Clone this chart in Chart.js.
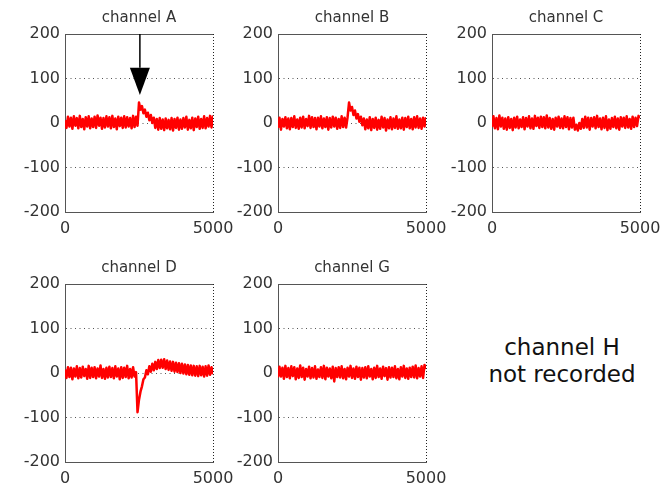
<!DOCTYPE html>
<html lang="en">
<head>
    <meta charset="UTF-8">
    <title>Channel recordings</title>
    <script src="https://cdn.jsdelivr.net/npm/chart.js"></script>
    <style>
        body { margin: 0; background: #fff; width: 666px; height: 486px; overflow: hidden; position: relative; font-family: "DejaVu Sans", sans-serif; }
        .panel { position: absolute; }
        #note { position: absolute; left: 462px; top: 334px; width: 200px; text-align: center; font-size: 23px; line-height: 27px; color: #111; }
    </style>
</head>
<body>
    <canvas id="chA" class="panel" width="240" height="250" style="left:0px;top:0px"></canvas>
    <canvas id="chB" class="panel" width="240" height="250" style="left:213px;top:0px"></canvas>
    <canvas id="chC" class="panel" width="240" height="250" style="left:427px;top:0px"></canvas>
    <canvas id="chD" class="panel" width="240" height="250" style="left:0px;top:250px"></canvas>
    <canvas id="chG" class="panel" width="240" height="250" style="left:213px;top:250px"></canvas>
    <div id="note">channel H<br>not recorded</div>

    <script>
        // sample positions (x) shared by every channel
        const sampleIdx = [0,50,100,150,200,250,300,350,400,450,500,550,600,650,700,750,800,850,900,950,
            1000,1050,1100,1150,1200,1250,1300,1350,1400,1450,1500,1550,1600,1650,1700,1750,1800,1850,1900,1950,
            2000,2050,2100,2150,2200,2250,2300,2350,2400,2450,2500,2550,2600,2650,2700,2750,2800,2850,2900,2950,
            3000,3050,3100,3150,3200,3250,3300,3350,3400,3450,3500,3550,3600,3650,3700,3750,3800,3850,3900,3950,
            4000,4050,4100,4150,4200,4250,4300,4350,4400,4450,4500,4550,4600,4650,4700,4750,4800,4850,4900,4950,5000];

        const chanA = [6,-11,14,-8,12,-13,15,-6,11,-12, 16,-9,9,-14,13,-8,15,-12,10,-9,
            14,-11,17,-6,12,-13,11,-10,15,-8, 13,-12,16,-9,10,-14,14,-7,12,-11,
            15,-10,13,-8,11,-12,16,-9,14,-6, 46,30,38,22,30,14,23,6,18,0,
            12,-11,9,-15,11,-13,8,-16,10,-12, 7,-14,11,-17,9,-11,12,-15,8,-13,
            11,-10,14,-15,7,-12,12,-16,10,-9, 14,-13,9,-11,15,-12,11,-8,16,-10,17];

        const chanB = [-11,12,-15,9,-8,13,-12,10,-14,11, -9,15,-11,8,-13,12,-10,14,-12,9,
            -7,16,-11,13,-9,11,-14,12,-8,15, -12,10,-9,13,-15,11,-10,14,-8,12,
            -13,9,-11,15,-9,12,-10,13, 46,28,36,18,28,10,20,3,14,-5,
            10,-14,8,-12,13,-16,9,-11,12,-15, 7,-13,14,-10,11,-17,8,-12,13,-14,
            10,-11,15,-13,8,-12,12,-15,11,-9, 14,-12,9,-14,13,-10,15,-11,10,-13,12,-8,13];

        const chanC = [-9,15,-12,11,-14,17,-8,12,-13,10, -15,13,-11,9,-16,12,-10,14,-12,8,
            -9,13,-14,11,-8,15,-12,10,-13,16, -7,12,-11,14,-9,13,-12,17,-10,11,
            -13,9,-15,12,-8,14,-11,10,-12,15, -9,13,-14,11,-10,12,-15,-4,-17,0,
            -13,9,-11,14,-10,12,-15,11,-8,13, -12,16,-9,10,-14,12,-11,15,-16,8,
            -13,11,-9,14,-12,10,-15,13,-8,12, -11,15,-10,9,-13,14,-9,12,-7,16,11];

        const chanD = [8,-11,13,-9,12,-14,10,-8,15,-12, 11,-10,14,-7,9,-13,16,-11,12,-9,
            13,-12,10,-8,17,-11,9,-13,12,-10, 14,-9,11,-12,15,-8,10,-14,13,-11,
            12,-9,16,-12,9,-10,13,-8,2, -88,-60,-42,-30,-14,-10,6,-3,15,3,
            21,6,25,9,29,11,30,12,31,9, 28,7,26,5,25,3,23,2,22,0,
            21,-1,19,-3,18,-4,17,-5,16,-6, 15,-7,16,-5,14,-8,15,-6,17,-4,13,-3];

        const chanG = [-10,14,-8,12,-13,16,-9,11,-12,15, -7,13,-14,10,-11,17,-9,12,-15,9,
            -8,14,-12,11,-10,15,-13,8,-9,13, -11,16,-14,12,-8,10,-12,14,-19,11,
            -9,13,-10,15,-12,9,-14,12,-8,16, -11,10,-13,14,-9,12,-15,11,-10,13,
            -12,15,-8,9,-14,12,-11,16,-9,10, -13,14,-7,11,-15,13,-10,12,-9,15,
            -12,9,-14,13,-8,16,-11,10,-13,12, -9,14,-10,17,-12,11,-8,15,-11,18,9];

        const xTickValues = [0, 5000];
        const yTickValues = [-200, -100, 0, 100, 200];

        // arrow marking the event on channel A
        const arrowAt = 2530;
        const arrowFrom = 200;
        const arrowHeadBase = 124;
        const arrowTip = 63;
        const arrowHalfWidth = 338;

        Chart.defaults.font.family = '"DejaVu Sans", sans-serif';

        const arrowPlugin = {
            id: 'arrow',
            afterDatasetsDraw(chart) {
                const { ctx, scales: { x, y } } = chart;
                const px = x.getPixelForValue(arrowAt);
                ctx.save();
                ctx.strokeStyle = '#000';
                ctx.fillStyle = '#000';
                ctx.lineWidth = 1.5;
                ctx.beginPath();
                ctx.moveTo(px, y.getPixelForValue(arrowFrom));
                ctx.lineTo(px, y.getPixelForValue(arrowHeadBase));
                ctx.stroke();
                ctx.beginPath();
                ctx.moveTo(x.getPixelForValue(arrowAt - arrowHalfWidth), y.getPixelForValue(arrowHeadBase));
                ctx.lineTo(x.getPixelForValue(arrowAt + arrowHalfWidth), y.getPixelForValue(arrowHeadBase));
                ctx.lineTo(px, y.getPixelForValue(arrowTip));
                ctx.closePath();
                ctx.fill();
                ctx.restore();
            }
        };

        // title centred over the plot box
        function titlePlugin(text) {
            return {
                id: 'panelTitle',
                afterDraw(chart) {
                    const { ctx, chartArea } = chart;
                    ctx.save();
                    ctx.fillStyle = '#333';
                    ctx.font = '15px "DejaVu Sans", sans-serif';
                    ctx.textAlign = 'center';
                    ctx.textBaseline = 'middle';
                    ctx.fillText(text, (chartArea.left + chartArea.right) / 2, 18);
                    ctx.restore();
                }
            };
        }

        function makePanel(id, title, values, extra) {
            const ctx = document.getElementById(id).getContext('2d');
            return new Chart(ctx, {
                type: 'line',
                data: {
                    datasets: [{
                        data: values.map((v, i) => ({ x: sampleIdx[i], y: v })),
                        borderColor: '#ff0000',
                        borderWidth: 2.5,
                        borderJoinStyle: 'round',
                        pointRadius: 0,
                        tension: 0,
                        fill: false
                    }]
                },
                options: {
                    responsive: false,
                    animation: false,
                    layout: { padding: { left: 0, right: 27, top: 34, bottom: 0 } },
                    plugins: {
                        legend: { display: false },
                        tooltip: { enabled: false },
                        title: { display: false }
                    },
                    scales: {
                        x: {
                            type: 'linear', min: 0, max: 5000,
                            afterBuildTicks: s => { s.ticks = xTickValues.map(v => ({ value: v })); },
                            afterFit: s => { s.height = 38; s.paddingLeft = 0; s.paddingRight = 0; },
                            ticks: { color: '#333', font: { size: 16 }, padding: 7, maxRotation: 0, autoSkip: false, callback: v => String(v) },
                            grid: {
                                drawTicks: false,
                                color: c => c.type === 'tick' && c.tick.value === 5000 ? '#222' : 'rgba(0,0,0,0)'
                            },
                            border: {
                                color: '#555', width: 1,
                                dash: c => c.type === 'tick' && c.tick.value === 5000 ? [1, 2] : []
                            }
                        },
                        y: {
                            min: -200, max: 200,
                            afterBuildTicks: s => { s.ticks = yTickValues.map(v => ({ value: v })); },
                            afterFit: s => { s.width = 65; s.paddingTop = 0; s.paddingBottom = 0; },
                            ticks: { color: '#333', font: { size: 16 }, padding: 5, callback: v => String(v) },
                            grid: { drawTicks: false, color: '#555' },
                            border: {
                                color: '#555', width: 1,
                                dash: c => c.type === 'tick' && Math.abs(c.tick.value) !== 200 ? [1, 3.5] : []
                            }
                        }
                    }
                },
                plugins: [titlePlugin(title)].concat(extra || [])
            });
        }

        window.onload = function() {
            makePanel('chA', 'channel A', chanA, [arrowPlugin]);
            makePanel('chB', 'channel B', chanB);
            makePanel('chC', 'channel C', chanC);
            makePanel('chD', 'channel D', chanD);
            makePanel('chG', 'channel G', chanG);
        };
    </script>
</body>
</html>
